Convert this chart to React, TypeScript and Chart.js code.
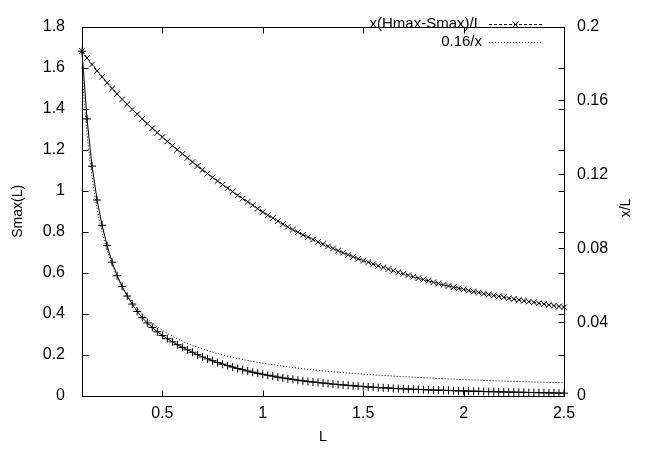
import React, { useEffect, useRef } from "react";
import { Chart, registerables } from "chart.js";
Chart.register(...registerables);

const L = [0.1, 0.125, 0.15, 0.175, 0.2, 0.225, 0.25, 0.275, 0.3, 0.325, 0.35, 0.375, 0.4, 0.425, 0.45, 0.475, 0.5, 0.525, 0.55, 0.575, 0.6, 0.625, 0.65, 0.675, 0.7, 0.725, 0.75, 0.775, 0.8, 0.825, 0.85, 0.875, 0.9, 0.925, 0.95, 0.975, 1.0, 1.025, 1.05, 1.075, 1.1, 1.125, 1.15, 1.175, 1.2, 1.225, 1.25, 1.275, 1.3, 1.325, 1.35, 1.375, 1.4, 1.425, 1.45, 1.475, 1.5, 1.525, 1.55, 1.575, 1.6, 1.625, 1.65, 1.675, 1.7, 1.725, 1.75, 1.775, 1.8, 1.825, 1.85, 1.875, 1.9, 1.925, 1.95, 1.975, 2.0, 2.025, 2.05, 2.075, 2.1, 2.125, 2.15, 2.175, 2.2, 2.225, 2.25, 2.275, 2.3, 2.325, 2.35, 2.375, 2.4, 2.425, 2.45, 2.475, 2.5];

const SMAX = [1.68, 1.35, 1.12, 0.955, 0.832, 0.733, 0.652, 0.586, 0.534, 0.487, 0.448, 0.412, 0.382, 0.356, 0.334, 0.313, 0.295, 0.279, 0.264, 0.25, 0.237, 0.225, 0.213, 0.201, 0.19, 0.181, 0.172, 0.163, 0.155, 0.148, 0.141, 0.134, 0.128, 0.122, 0.116, 0.111, 0.106, 0.101, 0.097, 0.092, 0.088, 0.084, 0.081, 0.077, 0.074, 0.071, 0.068, 0.066, 0.063, 0.061, 0.058, 0.056, 0.054, 0.052, 0.05, 0.048, 0.046, 0.044, 0.043, 0.041, 0.04, 0.039, 0.037, 0.036, 0.035, 0.034, 0.033, 0.032, 0.031, 0.03, 0.029, 0.028, 0.028, 0.027, 0.026, 0.025, 0.025, 0.024, 0.023, 0.023, 0.022, 0.021, 0.021, 0.02, 0.02, 0.019, 0.019, 0.018, 0.018, 0.017, 0.017, 0.016, 0.016, 0.015, 0.015, 0.014, 0.014];

const XH = [0.1867, 0.183, 0.1795, 0.1761, 0.1728, 0.1696, 0.1665, 0.1635, 0.1606, 0.1579, 0.1552, 0.1526, 0.15, 0.1475, 0.145, 0.1426, 0.1402, 0.1379, 0.1356, 0.1333, 0.1311, 0.1289, 0.1267, 0.1245, 0.1224, 0.1204, 0.1184, 0.1164, 0.1144, 0.1125, 0.1106, 0.1087, 0.1069, 0.1051, 0.1033, 0.1014, 0.0996, 0.0979, 0.0963, 0.0947, 0.0931, 0.0916, 0.0901, 0.0887, 0.0873, 0.086, 0.0847, 0.0834, 0.0822, 0.081, 0.0799, 0.0787, 0.0776, 0.0765, 0.0754, 0.0743, 0.0733, 0.0724, 0.0714, 0.0705, 0.0696, 0.0687, 0.0679, 0.067, 0.0662, 0.0654, 0.0646, 0.0638, 0.0631, 0.0624, 0.0616, 0.0609, 0.0602, 0.0596, 0.0589, 0.0583, 0.0577, 0.0571, 0.0565, 0.056, 0.0554, 0.0549, 0.0544, 0.0539, 0.0534, 0.0529, 0.0525, 0.052, 0.0516, 0.0511, 0.0507, 0.0502, 0.0498, 0.0494, 0.0489, 0.0485, 0.048];

const L_F = [0.1, 0.11, 0.12, 0.13, 0.14, 0.15, 0.175, 0.2, 0.225, 0.25, 0.3, 0.35, 0.4, 0.45, 0.5, 0.6, 0.7, 0.8, 0.9, 1.0, 1.2, 1.4, 1.6, 1.8, 2.0, 2.25, 2.5];
const F = [1.6, 1.455, 1.333, 1.231, 1.143, 1.067, 0.914, 0.8, 0.711, 0.64, 0.533, 0.457, 0.4, 0.356, 0.32, 0.267, 0.229, 0.2, 0.178, 0.16, 0.133, 0.114, 0.1, 0.089, 0.08, 0.071, 0.064];

const X_TICKS = [0.5, 1, 1.5, 2, 2.5];
const Y_TICKS = [0, 0.2, 0.4, 0.6, 0.8, 1, 1.2, 1.4, 1.6, 1.8];
const Y2_TICKS = [0, 0.04, 0.08, 0.12, 0.16, 0.2];
const LEGEND = ["x(Hmax-Smax)/L", "0.16/x"];

const FONT = "'Liberation Sans', Arial, sans-serif";
const TICK_FS = 16;
const TITLE_FS = 14;
const LEG_FS = 15;

const framePlugin = {
  id: "gnuframe",
  afterDatasetsDraw(chart: any) {
    const { ctx, chartArea: a, scales } = chart;
    const xs = scales.x, ys = scales.y, y2 = scales.y2;
    const T = 6;
    ctx.save();
    ctx.strokeStyle = "#000";
    ctx.lineWidth = 1;
    ctx.setLineDash([]);
    const L0 = Math.round(a.left) + 0.5, R0 = Math.round(a.right) + 0.5;
    const T0 = Math.round(a.top) + 0.5, B0 = Math.round(a.bottom) + 0.5;
    ctx.strokeRect(L0, T0, R0 - L0, B0 - T0);
    ctx.beginPath();
    X_TICKS.forEach((v) => {
      const x = Math.round(xs.getPixelForValue(v)) + 0.5;
      ctx.moveTo(x, B0); ctx.lineTo(x, B0 - T);
      ctx.moveTo(x, T0); ctx.lineTo(x, T0 + T);
    });
    Y_TICKS.forEach((v) => {
      const y = Math.round(ys.getPixelForValue(v)) + 0.5;
      ctx.moveTo(L0, y); ctx.lineTo(L0 + T, y);
      ctx.moveTo(R0, y); ctx.lineTo(R0 - T, y);
    });
    Y2_TICKS.forEach((v) => {
      const y = Math.round(y2.getPixelForValue(v)) + 0.5;
      ctx.moveTo(R0, y); ctx.lineTo(R0 - T, y);
    });
    ctx.stroke();

    // legend
    ctx.font = `${LEG_FS}px ${FONT}`;
    ctx.fillStyle = "#000";
    ctx.textAlign = "right";
    ctx.textBaseline = "middle";
    const tx = 482, s0 = 489, s1 = 542;
    const rows = [24, 42];
    LEGEND.forEach((t, i) => ctx.fillText(t, tx, rows[i]));
    ctx.beginPath();
    ctx.setLineDash([3, 2]);
    ctx.moveTo(s0, rows[0] + 0.5); ctx.lineTo(s1, rows[0] + 0.5);
    ctx.stroke();
    ctx.setLineDash([1, 2]);
    ctx.beginPath();
    ctx.moveTo(s0, rows[1] + 0.5); ctx.lineTo(s1, rows[1] + 0.5);
    ctx.stroke();
    ctx.setLineDash([]);
    const cx = (s0 + s1) / 2, cy = rows[0] + 0.5, r = 3;
    ctx.beginPath();
    ctx.moveTo(cx - r, cy - r); ctx.lineTo(cx + r, cy + r);
    ctx.moveTo(cx - r, cy + r); ctx.lineTo(cx + r, cy - r);
    ctx.stroke();

    // right axis title
    ctx.font = `${TITLE_FS}px ${FONT}`;
    ctx.save();
    ctx.translate(626, 208);
    ctx.rotate(-Math.PI / 2);
    ctx.textAlign = "center";
    ctx.fillText("x/L", 0, 0);
    ctx.restore();
    ctx.restore();
  },
};

export default function App() {
  const ref = useRef<HTMLCanvasElement>(null);
  useEffect(() => {
    document.body.style.margin = "0";
    const tickFont = { family: FONT, size: TICK_FS };
    const titleFont = { family: FONT, size: TITLE_FS };
    const chart = new Chart(ref.current!, {
      type: "line",
      data: {
        datasets: [
          {
            label: "Smax",
            data: L.map((x, i) => ({ x, y: SMAX[i] })),
            yAxisID: "y",
            borderColor: "#000",
            borderWidth: 1,
            pointStyle: "cross",
            pointRadius: 4,
            pointBorderColor: "#000",
            pointBorderWidth: 1,
            backgroundColor: "#000",
            fill: false,
            clip: false,
          },
          {
            label: LEGEND[0],
            data: L.map((x, i) => ({ x, y: XH[i] })),
            yAxisID: "y2",
            borderColor: "#000",
            borderWidth: 1,
            borderDash: [3, 2],
            pointStyle: "crossRot",
            pointRadius: 4,
            pointBorderColor: "#000",
            pointBorderWidth: 1,
            fill: false,
            clip: false,
          },
          {
            label: LEGEND[1],
            data: L_F.map((x, i) => ({ x, y: F[i] })),
            yAxisID: "y",
            borderColor: "#000",
            borderWidth: 1,
            borderDash: [1, 2],
            pointRadius: 0,
            cubicInterpolationMode: "monotone",
            fill: false,
            clip: false,
          },
        ],
      },
      options: {
        animation: false,
        responsive: false,
        maintainAspectRatio: false,
        layout: { padding: { top: 12, left: 0, right: 0, bottom: 0 } },
        plugins: { legend: { display: false }, tooltip: { enabled: false } },
        scales: {
          x: {
            type: "linear",
            min: 0.1,
            max: 2.5,
            grid: { display: false, drawTicks: false },
            border: { display: false },
            afterBuildTicks: (s: any) => { s.ticks = X_TICKS.map((v) => ({ value: v })); },
            afterFit: (s: any) => { s.height = 58; },
            ticks: { color: "#000", font: tickFont, padding: 8, maxRotation: 0, autoSkip: false, callback: (v: any) => String(v) },
            title: { display: true, text: "L", color: "#000", font: titleFont, padding: { top: 0, bottom: 8 } },
          },
          y: {
            type: "linear",
            position: "left",
            min: 0,
            max: 1.8,
            grid: { display: false, drawTicks: false },
            border: { display: false },
            afterBuildTicks: (s: any) => { s.ticks = Y_TICKS.map((v) => ({ value: v })); },
            afterFit: (s: any) => { s.width = 82; },
            ticks: { color: "#000", font: tickFont, padding: 17, autoSkip: false, callback: (v: any) => String(v) },
            title: { display: true, text: "Smax(L)", color: "#000", font: titleFont, padding: { top: 10, bottom: 0 } },
          },
          y2: {
            type: "linear",
            position: "right",
            min: 0,
            max: 0.2,
            grid: { display: false, drawTicks: false },
            border: { display: false },
            afterBuildTicks: (s: any) => { s.ticks = Y2_TICKS.map((v) => ({ value: v })); },
            afterFit: (s: any) => { s.width = 81; },
            ticks: { color: "#000", font: tickFont, padding: 13, autoSkip: false, callback: (v: any) => String(v) },
          },
        },
      },
      plugins: [framePlugin],
    } as any);
    return () => chart.destroy();
  }, []);
  return (
    <div style={{ position: "fixed", left: 0, top: 0, width: 645, height: 454, background: "#fff" }}>
      <canvas ref={ref} width={645} height={454} />
    </div>
  );
}
